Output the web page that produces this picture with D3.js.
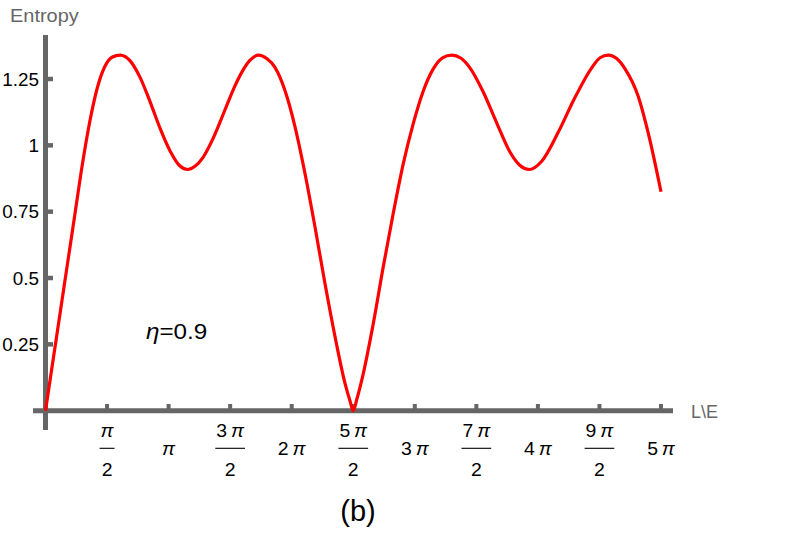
<!DOCTYPE html>
<html>
<head>
<meta charset="utf-8">
<script src="https://cdn.jsdelivr.net/npm/d3@7"></script>
<style>
  html, body { margin: 0; padding: 0; background: #fff; }
  svg { display: block; }
  text { font-family: "Liberation Sans", Arial, sans-serif; }
</style>
</head>
<body>
<div id="chart"></div>
<script>
// ---- data (x in multiples of pi) ----
const xPi = [
  0, 0.060, 0.120, 0.180, 0.240, 0.300, 0.360, 0.420, 0.480, 0.540, 0.608,
  0.686, 0.768, 0.849, 0.930, 1.011, 1.093, 1.155,
  1.214, 1.280, 1.350, 1.420, 1.485, 1.540, 1.594, 1.660, 1.729,
  1.800, 1.864, 1.946, 2.027, 2.108, 2.189, 2.270, 2.352, 2.433, 2.475, 2.500,
  2.530, 2.582, 2.663, 2.744, 2.825, 2.907, 2.988, 3.069, 3.150, 3.225, 3.300,
  3.375, 3.448, 3.557, 3.665, 3.773, 3.855, 3.930,
  4.031, 4.166, 4.301, 4.437, 4.505, 4.572,
  4.640, 4.708, 4.816, 4.897, 5.000];
const entropy = [
  0, 0.186, 0.372, 0.558, 0.744, 0.930, 1.090, 1.215, 1.295, 1.332, 1.340,
  1.319, 1.256, 1.165, 1.065, 0.980, 0.922, 0.909,
  0.921, 0.955, 1.015, 1.090, 1.165, 1.225, 1.275, 1.320, 1.340,
  1.326, 1.294, 1.206, 1.070, 0.894, 0.693, 0.480, 0.279, 0.103, 0.035, 0,
  0.045, 0.141, 0.329, 0.543, 0.744, 0.932, 1.083, 1.205, 1.288, 1.330, 1.340,
  1.328, 1.292, 1.200, 1.085, 0.975, 0.924, 0.909,
  0.940, 1.050, 1.180, 1.292, 1.330, 1.340,
  1.327, 1.288, 1.183, 1.045, 0.825];

const yTickValues = [0.25, 0.5, 0.75, 1, 1.25];
const yTickLabels = ["0.25", "0.5", "0.75", "1", "1.25"];
const xTickValues = [0.5, 1, 1.5, 2, 2.5, 3, 3.5, 4, 4.5, 5];
const xTickCoef = ["", "", "3", "2", "5", "3", "7", "4", "9", "5"];
const xTickDen  = ["2", "", "2", "", "2", "", "2", "", "2", ""];
const yAxisTitle = "Entropy";
const xAxisTitle = "L\\E";
const annotation = { sym: "η", rest: "=0.9" };
const caption = "(b)";

// ---- layout ----
const W = 809, H = 536;
const axisColor = "#666666";
const SX = 1.05; // horizontal text stretch

const svg = d3.select("#chart").append("svg").attr("width", W).attr("height", H);

const x = d3.scaleLinear().domain([0, 5]).range([45.5, 661]);
const y = d3.scaleLinear().domain([0, 1.25]).range([410.7, 79]);

function stext(g, px, py, anchor, size, fill, sx) {
  const gg = g.append("g").attr("transform", `translate(${px},${py}) scale(${sx || SX},1)`);
  return gg.append("text").attr("text-anchor", anchor).attr("font-size", size).attr("fill", fill);
}

// axes lines
const axes = svg.append("g");
axes.append("line").attr("x1", 33).attr("x2", 673).attr("y1", y(0)).attr("y2", y(0))
  .attr("stroke", axisColor).attr("stroke-width", 5);
axes.append("line").attr("x1", x(0)).attr("x2", x(0)).attr("y1", 35).attr("y2", 430)
  .attr("stroke", axisColor).attr("stroke-width", 5);

// y ticks
yTickValues.forEach((v, i) => {
  axes.append("line").attr("x1", x(0)).attr("x2", 53).attr("y1", y(v)).attr("y2", y(v))
    .attr("stroke", axisColor).attr("stroke-width", 4.5);
  stext(axes, 39, y(v) + 6.5, "end", 18, "#000").text(yTickLabels[i]);
});

// x ticks
xTickValues.forEach((v, i) => {
  axes.append("line").attr("x1", x(v)).attr("x2", x(v)).attr("y1", 404).attr("y2", y(0))
    .attr("stroke", axisColor).attr("stroke-width", 4);
  const cx = x(v);
  const coef = xTickCoef[i];
  if (xTickDen[i]) {
    const t = stext(axes, cx, 437, "middle", 18.5, "#000");
    if (coef) t.append("tspan").text(coef + "\u2009");
    t.append("tspan").attr("font-style", "italic").text("π");
    const w = t.node().getComputedTextLength() * SX;
    axes.append("line").attr("x1", cx - w / 2 - 1).attr("x2", cx + w / 2 + 1)
      .attr("y1", 448.3).attr("y2", 448.3).attr("stroke", "#000").attr("stroke-width", 1.1);
    stext(axes, cx, 476, "middle", 18.5, "#000").text(xTickDen[i]);
  } else {
    const t = stext(axes, cx, 455, "middle", 18.5, "#000");
    if (coef) t.append("tspan").text(coef + "\u2009");
    t.append("tspan").attr("font-style", "italic").text("π");
  }
});

// axis titles
stext(svg, 10, 22, "start", 19, axisColor).text(yAxisTitle);
stext(svg, 691, 418, "start", 18, axisColor, 1.0).text(xAxisTitle);

// curve
const data = xPi.map((d, i) => [d, entropy[i]]);
const line = d3.line().x(d => x(d[0])).y(d => y(d[1])).curve(d3.curveMonotoneX);
svg.append("path").datum(data).attr("d", line).attr("fill", "none")
  .attr("stroke", "#ff0000").attr("stroke-width", 3.2).attr("stroke-linejoin", "round");

// annotation
const ann = stext(svg, 146, 339, "start", 22, "#000", 1.1);
ann.append("tspan").attr("font-style", "italic").text(annotation.sym);
ann.append("tspan").text(annotation.rest);

// caption
svg.append("text").attr("x", 358).attr("y", 521).attr("text-anchor", "middle")
  .attr("font-size", 29).attr("fill", "#000").text(caption);
</script>
</body>
</html>
